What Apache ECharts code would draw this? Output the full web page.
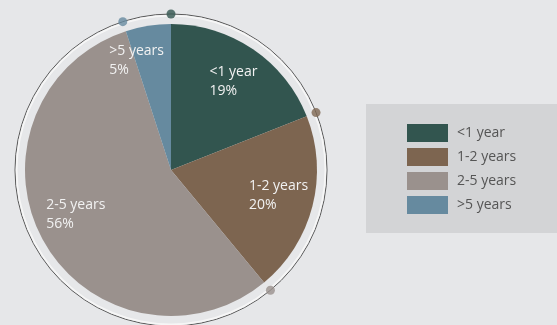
<!DOCTYPE html>
<html>
<head>
<meta charset="utf-8">
<script src="https://cdn.jsdelivr.net/npm/echarts@6/dist/echarts.min.js"></script>
<style>
html,body{margin:0;padding:0;background:#e6e7e9;}
#c{width:557px;height:325px;}
</style>
</head>
<body>
<div id="c"></div>
<script>
const categories = ['<1 year', '1-2 years', '2-5 years', '>5 years'];
const values = [19, 20, 56, 5];
const colors = ['#32554f', '#7d6550', '#9a918d', '#668a9f'];
// label nudges (styling only)
const labelOffsets = [[0, 3], [0, -2], [2, -9], [-17, 0]];

const total = values.reduce((a, b) => a + b, 0);
const starts = [];
let acc = 0;
values.forEach(v => { starts.push(acc); acc += v; });

const CX = 171, CY = 170;
const chart = echarts.init(document.getElementById('c'), null, {renderer: 'canvas'});
chart.setOption({
  backgroundColor: '#e6e7e9',
  animation: false,
  color: colors,
  graphic: [{
    type: 'rect', left: 366, top: 104, z: -10,
    shape: {width: 191, height: 129},
    style: {fill: '#d3d4d6'}
  }],
  legend: {
    orient: 'vertical', left: 407, top: 124, padding: 0,
    itemWidth: 41, itemHeight: 18, itemGap: 6,
    icon: 'rect',
    data: categories,
    textStyle: {color: '#555', fontSize: 14, fontFamily: 'Open Sans', padding: [0, 0, 0, 4]}
  },
  polar: {center: [CX, CY], radius: 156},
  angleAxis: {
    type: 'value', min: 0, max: total, startAngle: 90, clockwise: true,
    axisLine: {show: true, lineStyle: {color: '#5a5a5a', width: 1}},
    axisTick: {show: false}, axisLabel: {show: false}, splitLine: {show: false}
  },
  radiusAxis: {
    type: 'value', min: 0, max: 1, show: false,
    axisLine: {show: false}, axisTick: {show: false}, axisLabel: {show: false}, splitLine: {show: false}
  },
  series: [
    {
      type: 'pie', center: [CX, CY], radius: [153.5, 155.3], silent: true,
      label: {show: false}, labelLine: {show: false},
      itemStyle: {color: '#f6f6f6'},
      data: [{value: 1, name: 'ring'}],
      legendHoverLink: false, z: 1
    },
    {
      type: 'pie', center: [CX, CY], radius: [0, 146], startAngle: 90, clockwise: true,
      label: {show: false}, labelLine: {show: false},
      data: categories.map((c, i) => ({name: c, value: values[i]})),
      z: 2
    },
    {
      type: 'pie', center: [CX, CY], radius: [70, 146], startAngle: 90, clockwise: true,
      silent: true, legendHoverLink: false,
      itemStyle: {color: 'rgba(0,0,0,0)'},
      labelLine: {show: false},
      label: {
        show: true, position: 'inside',
        formatter: p => '{t|' + p.name + '}\n{t|' + p.value + '%}',
        rich: {t: {align: 'left', color: '#f2f2f2', fontSize: 14, fontFamily: 'Open Sans', lineHeight: 19}}
      },
      data: categories.map((c, i) => ({name: c, value: values[i], label: {offset: labelOffsets[i]}})),
      z: 3
    },
    {
      type: 'scatter', coordinateSystem: 'polar', symbol: 'circle', symbolSize: 9,
      silent: true,
      data: starts.map((s, i) => ({value: [1, s], itemStyle: {color: colors[i]}})),
      z: 4
    }
  ]
});
</script>
</body>
</html>
